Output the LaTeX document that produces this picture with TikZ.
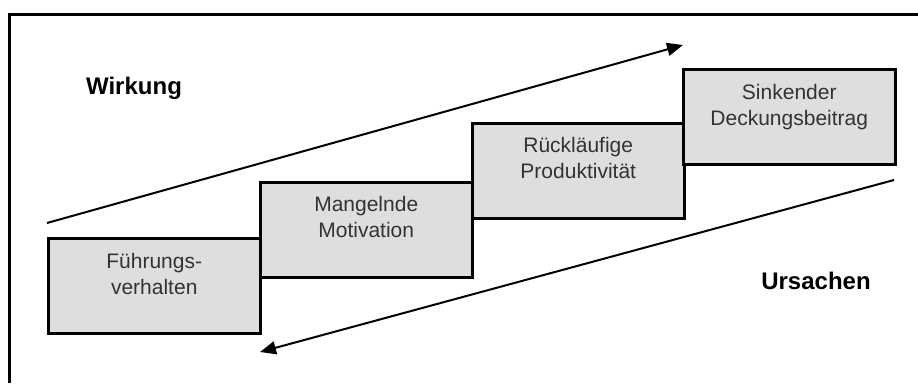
\documentclass[tikz,border=0pt]{standalone}
\usepackage{fontspec}
\setmainfont{Liberation Sans}
\usetikzlibrary{arrows.meta}
\definecolor{boxfill}{HTML}{DEDEDE}
\definecolor{boxtextcol}{HTML}{333333}
\tikzset{
  stepbox/.style={draw=black, line width=2.5pt, fill=boxfill, minimum width=212pt, minimum height=95pt, inner sep=0pt, anchor=north west},
  boxtext/.style={text=boxtextcol, align=center, inner sep=0pt, anchor=base, font=\fontsize{21}{26}\selectfont},
  biglabel/.style={font=\fontsize{24}{28}\selectfont\bfseries, inner sep=0pt},
  trend/.style={line width=2pt, -{Triangle[length=16pt,width=13pt]}},
  frame/.style={line width=3pt}
}
\begin{document}
\begin{tikzpicture}[x=1pt,y=-1pt]
\useasboundingbox (0,0) rectangle (918,383);
\fill[white] (0,0) rectangle (918,383);
\coordinate (fbl) at (9,383);
\coordinate (ftl) at (9,14);
\coordinate (ftr) at (918,14);
\draw[frame] (fbl) -- (ftl) -- (ftr);

\node[stepbox] (b1) at (47,237) {};
\node[stepbox] (b2) at (259,181) {};
\node[stepbox] (b3) at (471,122) {};
\node[stepbox] (b4) at (682,68) {};

\node[boxtext] (t1) at ([yshift=-57pt]b1.north) {Führungs-\\verhalten};
\node[boxtext] (t2) at ([yshift=-56pt]b2.north) {Mangelnde\\Motivation};
\node[boxtext] (t3) at ([yshift=-56pt]b3.north) {Rückläufige\\Produktivität};
\node[boxtext] (t4) at ([yshift=-57pt]b4.north) {Sinkender\\Deckungsbeitrag};

\node[biglabel] (wirk) at (134,88) {Wirkung};
\node[biglabel] (urs) at (816,281) {Ursachen};

\coordinate (up1) at (47,223);
\coordinate (up2) at (683,45);
\coordinate (dn1) at (894,180);
\coordinate (dn2) at (260,352);
\draw[trend] (up1) -- (up2);
\draw[trend] (dn1) -- (dn2);
\end{tikzpicture}
\end{document}
